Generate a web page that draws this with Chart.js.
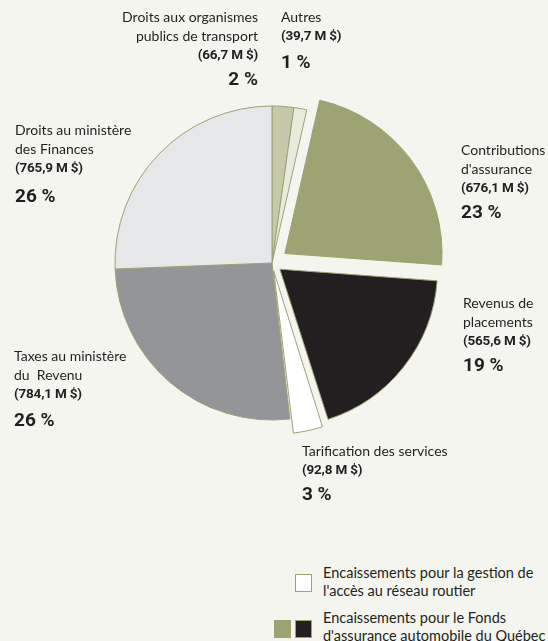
<!DOCTYPE html>
<html>
<head>
<meta charset="utf-8">
<script src="https://cdn.jsdelivr.net/npm/chart.js@4.4.1/dist/chart.umd.min.js"></script>
<style>
  html, body { margin: 0; padding: 0; }
  body { width: 548px; height: 641px; background: #f4f5ef; position: relative; overflow: hidden;
         font-family: Lato, "Open Sans", sans-serif; color: #231f20; }
  #wrap { position: absolute; left: 72px; top: 63px; width: 400px; height: 400px; }
  .lbl { position: absolute; font-size: 14px; line-height: 19px; white-space: nowrap; }
  .lbl.r { text-align: right; }
  .v { font-family: Roboto, "Liberation Sans", sans-serif; font-weight: bold; font-size: 13.5px; line-height: 19px; letter-spacing: -0.2px; }
  .p { font-family: Roboto, "Liberation Sans", sans-serif; font-weight: bold; font-size: 19px; line-height: 20px; }
  .box { position: absolute; width: 15px; height: 16px; border: 1.5px solid #9ca272; }
  .leg { position: absolute; left: 323px; font-size: 14.5px; line-height: 18px; white-space: nowrap; }
</style>
</head>
<body>
<div id="wrap"><canvas id="c"></canvas></div>
<div id="labels"></div>
<div class="box" style="left:295px; top:574px; background:#ffffff;"></div>
<div class="leg" style="top:564px;">Encaissements pour la gestion de<br>l'accès au réseau routier</div>
<div class="box" style="left:274px; top:620px; background:#9ca272;"></div>
<div class="box" style="left:295px; top:620px; background:#231f20;"></div>
<div class="leg" style="top:609px;">Encaissements pour le Fonds<br>d'assurance automobile du Québec</div>
<script>
const categories = [
  "Droits aux organismes publics de transport",
  "Autres",
  "Contributions d'assurance",
  "Revenus de placements",
  "Tarification des services",
  "Taxes au ministère du Revenu",
  "Droits au ministère des Finances"
];
const valuesMD = [66.7, 39.7, 676.1, 565.6, 92.8, 784.1, 765.9];
const valueLabels = ["(66,7 M $)", "(39,7 M $)", "(676,1 M $)", "(565,6 M $)", "(92,8 M $)", "(784,1 M $)", "(765,9 M $)"];
const percentLabels = ["2 %", "1 %", "23 %", "19 %", "3 %", "26 %", "26 %"];
const sliceColors = ["#c5c9a8", "#e8eadd", "#9ea373", "#231f20", "#ffffff", "#939598", "#e6e7e8"];
// Chart.js v4 draws arcs translated by offset/4
const sliceOffsets = [0, 0, 64, 40, 32, 0, 0];

const nameLines = [
  ["Droits aux organismes", "publics de transport"],
  ["Autres"],
  ["Contributions", "d'assurance"],
  ["Revenus de", "placements"],
  ["Tarification des services"],
  ["Taxes au ministère", "du&nbsp; Revenu"],
  ["Droits au ministère", "des Finances"]
];
const labelPos = [
  {right: 258, top: 7, gap: 5},
  {left: 281, top: 7, gap: 7},
  {left: 461, top: 140, gap: 5},
  {left: 463, top: 293, gap: 5},
  {left: 302, top: 441, gap: 5},
  {left: 14, top: 346, gap: 7},
  {left: 15, top: 120, gap: 9}
];

const lc = document.getElementById('labels');
categories.forEach((c, i) => {
  const d = document.createElement('div');
  d.className = 'lbl';
  const p = labelPos[i];
  if (p.right !== undefined) { d.classList.add('r'); d.style.right = (548 - p.right) + 'px'; }
  else d.style.left = p.left + 'px';
  d.style.top = p.top + 'px';
  d.innerHTML = nameLines[i].join('<br>') + '<div class="v">' + valueLabels[i] +
    '</div><div class="p" style="margin-top:' + p.gap + 'px">' + percentLabels[i] + '</div>';
  lc.appendChild(d);
});

new Chart(document.getElementById('c'), {
  type: 'pie',
  data: {
    labels: categories,
    datasets: [{
      data: valuesMD,
      backgroundColor: sliceColors,
      borderColor: '#9ca272',
      borderWidth: 1,
      offset: sliceOffsets,
      hoverOffset: 0
    }]
  },
  options: {
    responsive: true,
    maintainAspectRatio: false,
    animation: false,
    radius: 157,
    layout: { padding: 0 },
    plugins: { legend: { display: false }, tooltip: { enabled: false } }
  }
});
</script>
</body>
</html>
